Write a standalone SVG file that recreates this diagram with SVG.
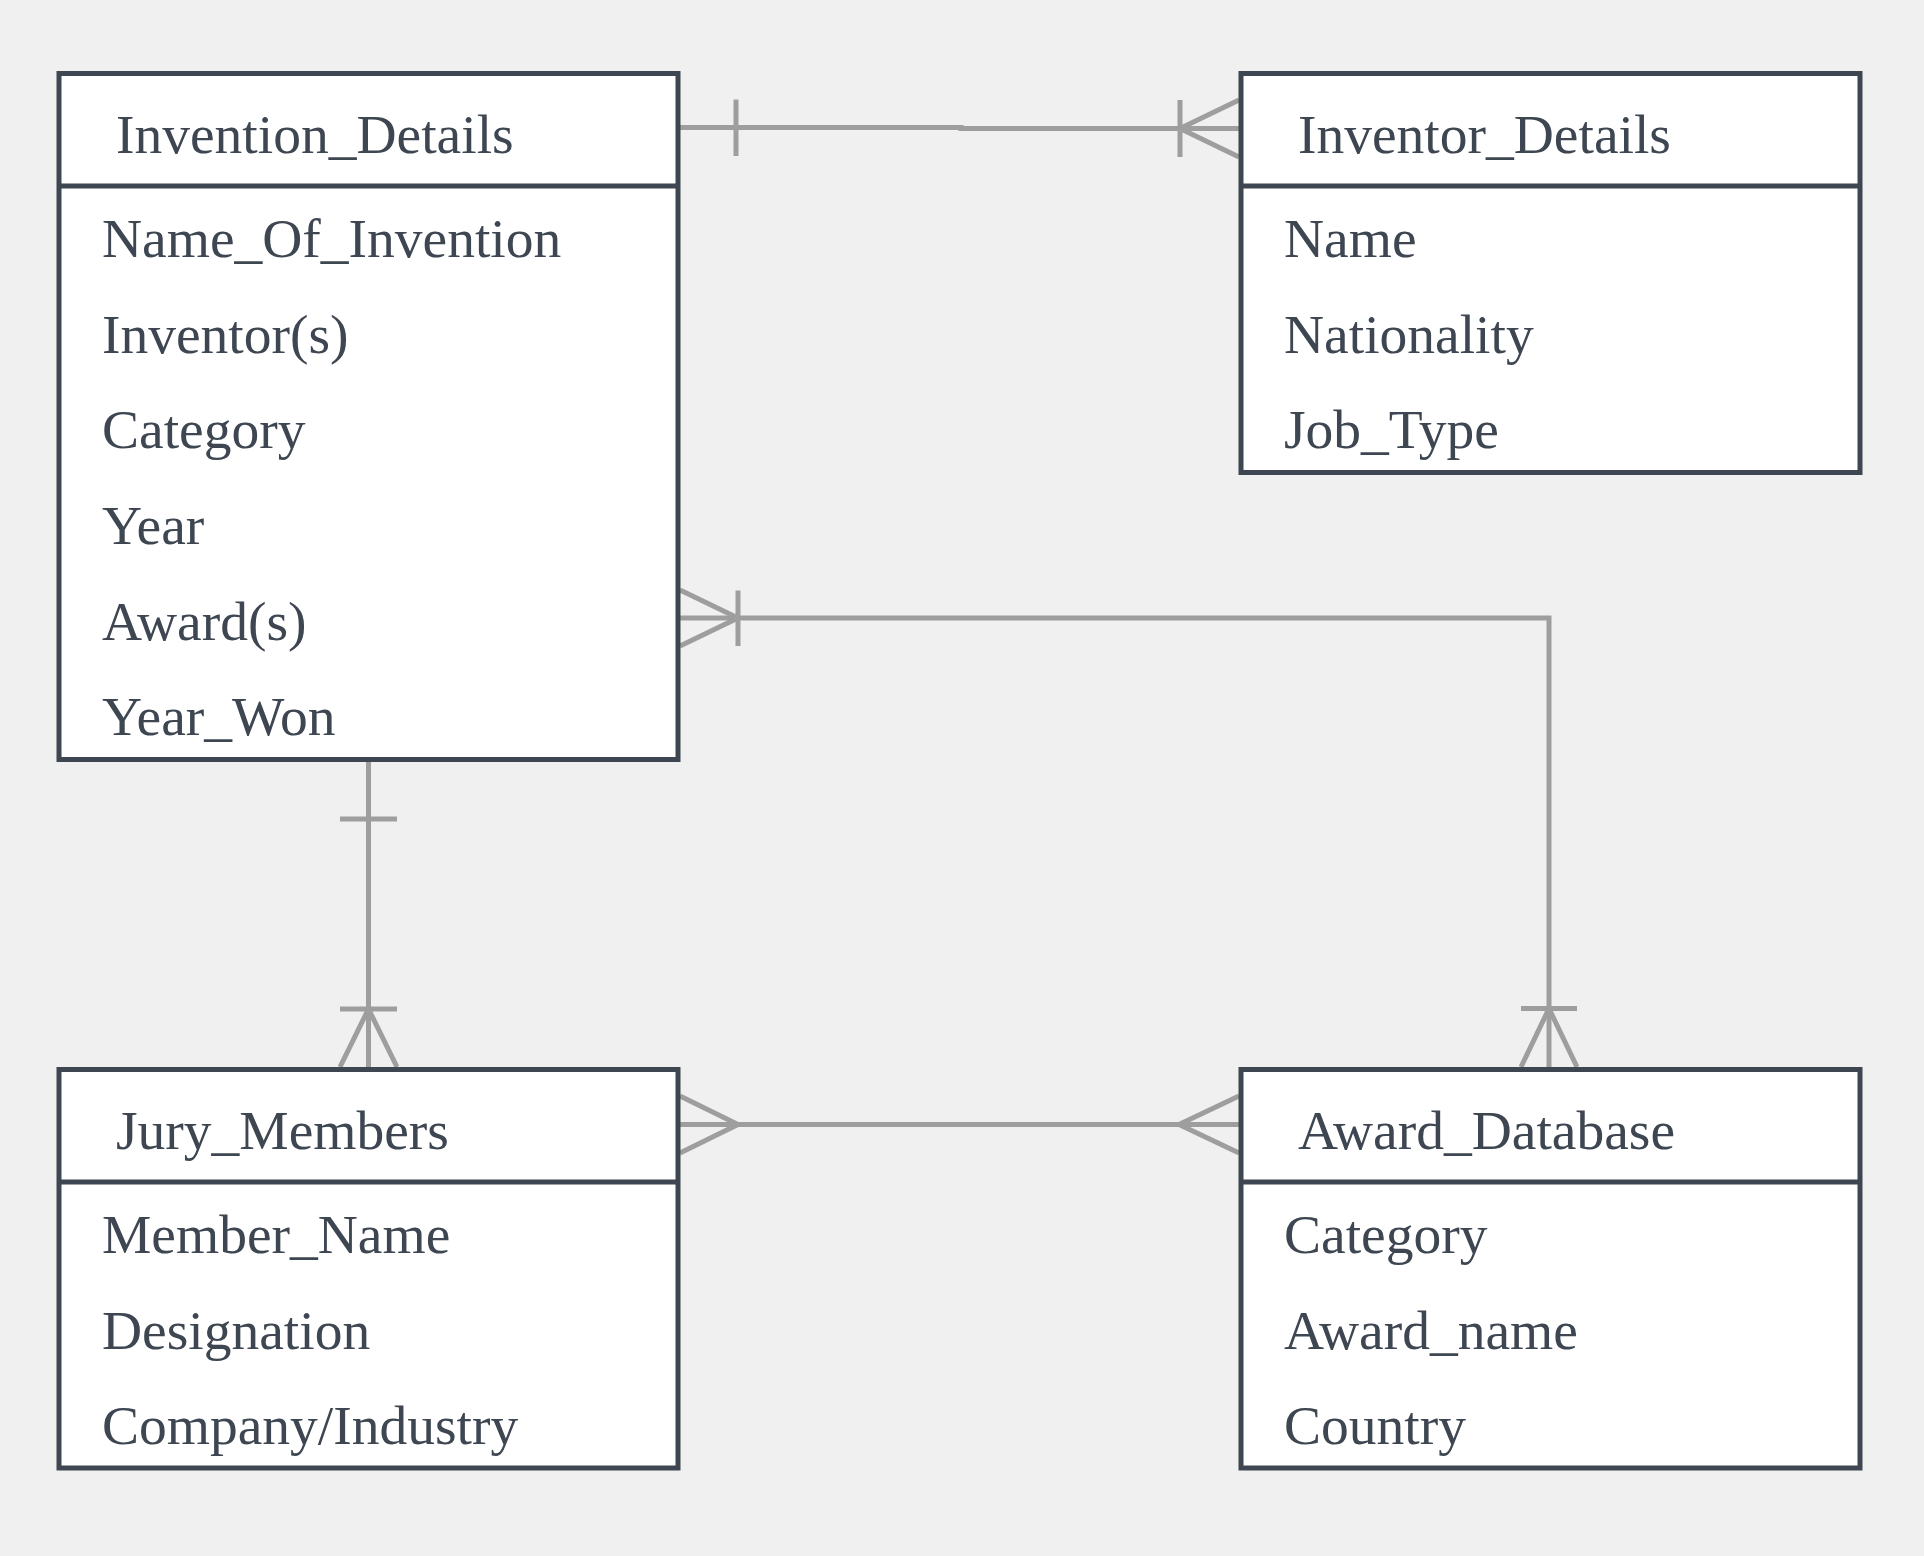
<svg xmlns="http://www.w3.org/2000/svg" width="1924" height="1556" viewBox="0 0 1924 1556">
<style>
.box{fill:#ffffff;stroke:#3d4651;stroke-width:5}
.div{stroke:#3d4651;stroke-width:5}
.t{font-family:"Liberation Serif","Times New Roman",serif;font-size:55.5px;fill:#3d4651}
.c{fill:none;stroke:#9e9e9e;stroke-width:5}
</style>
<rect x="0" y="0" width="1924" height="1556" fill="#f0f0f0"/>
<g id="connectors">
  <path class="c" d="M680,127.5 H961 V128.5 H1239"/>
  <path class="c" d="M736,99.5 V156"/>
  <path class="c" d="M1180,100 V157"/>
  <path class="c" d="M1239,100 L1180,128.5 L1239,157"/>

  <path class="c" d="M680,618 H1549 V1067"/>
  <path class="c" d="M680,590 L738,618 L680,646"/>
  <path class="c" d="M738,590.5 V646"/>
  <path class="c" d="M1521,1008.5 H1577"/>
  <path class="c" d="M1521,1067 L1549,1008.5 L1577,1067"/>

  <path class="c" d="M368.5,761 V1067"/>
  <path class="c" d="M340,819 H397"/>
  <path class="c" d="M340,1009 H397"/>
  <path class="c" d="M340,1067 L368.5,1009 L397,1067"/>

  <path class="c" d="M680,1124.5 H1239"/>
  <path class="c" d="M680,1096 L738,1124.5 L680,1153"/>
  <path class="c" d="M1239,1096 L1179,1124.5 L1239,1153"/>
</g>
<g id="invention_details">
  <rect class="box" x="59" y="73.5" width="619" height="686"/>
  <line class="div" x1="59" y1="186" x2="678" y2="186"/>
  <text class="t" x="116" y="152.5">Invention_Details</text>
  <text class="t" x="102" y="256.8">Name_Of_Invention</text>
  <text class="t" x="102" y="352.5">Inventor(s)</text>
  <text class="t" x="102" y="448.2">Category</text>
  <text class="t" x="102" y="543.9">Year</text>
  <text class="t" x="102" y="639.6">Award(s)</text>
  <text class="t" x="102" y="735.3">Year_Won</text>
</g>
<g id="inventor_details">
  <rect class="box" x="1241" y="73.5" width="619" height="399"/>
  <line class="div" x1="1241" y1="186" x2="1860" y2="186"/>
  <text class="t" x="1298" y="152.5">Inventor_Details</text>
  <text class="t" x="1284" y="256.8">Name</text>
  <text class="t" x="1284" y="352.5">Nationality</text>
  <text class="t" x="1284" y="448.2">Job_Type</text>
</g>
<g id="jury_members">
  <rect class="box" x="59" y="1069.5" width="619" height="398.5"/>
  <line class="div" x1="59" y1="1182" x2="678" y2="1182"/>
  <text class="t" x="116" y="1148.5">Jury_Members</text>
  <text class="t" x="102" y="1252.8">Member_Name</text>
  <text class="t" x="102" y="1348.5">Designation</text>
  <text class="t" x="102" y="1444.2">Company/Industry</text>
</g>
<g id="award_database">
  <rect class="box" x="1241" y="1069.5" width="619" height="398.5"/>
  <line class="div" x1="1241" y1="1182" x2="1860" y2="1182"/>
  <text class="t" x="1298" y="1148.5">Award_Database</text>
  <text class="t" x="1284" y="1252.8">Category</text>
  <text class="t" x="1284" y="1348.5">Award_name</text>
  <text class="t" x="1284" y="1444.2">Country</text>
</g>
</svg>
